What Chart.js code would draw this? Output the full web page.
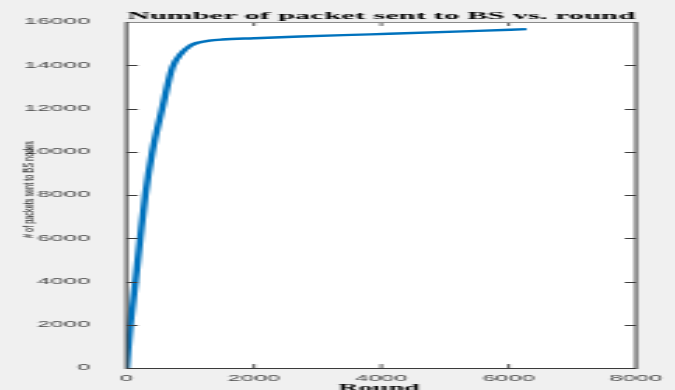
<!DOCTYPE html>
<html>
<head>
<meta charset="utf-8">
<script src="https://cdn.jsdelivr.net/npm/chart.js@4/dist/chart.umd.min.js"></script>
<style>
  html, body { margin: 0; padding: 0; background: #f0f0f0; overflow: hidden; }
  /* The figure is laid out narrow and then widened horizontally */
  #wrap { width: 241px; height: 390px; transform: scaleX(2.80083); transform-origin: 0 0; }
  canvas { display: block; }
</style>
</head>
<body>
<div id="wrap"><canvas id="c" width="241" height="390"></canvas></div>
<script>
// Cumulative packets delivered to the base station, by round
const rounds  = [0, 60, 140, 215, 295, 405, 560, 720, 860, 1000, 1100, 1300, 1500, 2000, 2724, 3823, 5518, 6280];
const packets = [0, 2000, 4000, 6000, 8000, 10000, 12000, 13900, 14550, 14900, 15030, 15140, 15190, 15250, 15330, 15430, 15590, 15670];

const xTicks = [0, 2000, 4000, 6000, 8000];
const yTicks = [0, 2000, 4000, 6000, 8000, 10000, 12000, 14000, 16000];

const titleText = 'Number of packet sent to BS vs. round';
const xLabel = 'Round';
const yLabel = '# of packets sent to BS nodes';

const AXIS_COLOR = '#3a3a3a';
const TICK_LEN = 4;

// Figure background, white axes, inward ticks on all four sides, title and axis labels
const matlabFrame = {
  id: 'matlabFrame',
  beforeDraw(chart) {
    const { ctx, chartArea: a } = chart;
    ctx.save();
    ctx.fillStyle = '#f0f0f0';
    ctx.fillRect(0, 0, chart.width, chart.height);
    ctx.fillStyle = '#ffffff';
    ctx.fillRect(a.left, a.top, a.right - a.left, a.bottom - a.top);
    ctx.restore();
  },
  afterDraw(chart) {
    const { ctx, chartArea: a, scales } = chart;
    const xs = scales.x, ys = scales.y;
    ctx.save();
    ctx.strokeStyle = AXIS_COLOR;

    // ticks
    ctx.lineWidth = 0.8;
    ctx.beginPath();
    xs.ticks.forEach(t => {
      if (t.value <= xs.min || t.value >= xs.max) return;
      const px = xs.getPixelForValue(t.value);
      ctx.moveTo(px, a.bottom); ctx.lineTo(px, a.bottom - TICK_LEN);
      ctx.moveTo(px, a.top);    ctx.lineTo(px, a.top + TICK_LEN);
    });
    ctx.stroke();
    ctx.lineWidth = 1;
    ctx.beginPath();
    ys.ticks.forEach(t => {
      if (t.value <= ys.min || t.value >= ys.max) return;
      const py = Math.round(ys.getPixelForValue(t.value)) + 0.5;
      ctx.moveTo(a.left, py);  ctx.lineTo(a.left + TICK_LEN, py);
      ctx.moveTo(a.right, py); ctx.lineTo(a.right - TICK_LEN, py);
    });
    ctx.stroke();

    // box
    ctx.lineWidth = 1;
    ctx.strokeStyle = '#8a8a8a';
    ctx.beginPath();
    ctx.moveTo(a.left, a.top + 0.5); ctx.lineTo(a.right, a.top + 0.5);
    ctx.stroke();
    ctx.strokeStyle = AXIS_COLOR;
    ctx.beginPath();
    ctx.moveTo(a.left, a.bottom + 0.5); ctx.lineTo(a.right, a.bottom + 0.5);
    ctx.stroke();
    ctx.lineWidth = 1;
    ctx.beginPath();
    ctx.moveTo(a.left, a.top); ctx.lineTo(a.left, a.bottom + 1);
    ctx.moveTo(a.right, a.top); ctx.lineTo(a.right, a.bottom + 1);
    ctx.stroke();

    const cx = (a.left + a.right) / 2;

    // title
    ctx.fillStyle = '#000000';
    ctx.font = 'bold 11px "Liberation Serif", serif';
    ctx.textAlign = 'center';
    ctx.textBaseline = 'alphabetic';
    ctx.fillText(titleText, cx, 18.5);

    // x-axis label
    ctx.font = 'bold 10px "Liberation Serif", serif';
    ctx.fillText(xLabel, cx - 0.8, 391);

    // y-axis label, rotated and condensed
    ctx.save();
    ctx.translate(10.5, 189.5);
    ctx.rotate(-Math.PI / 2);
    ctx.scale(0.73, 0.6);
    ctx.font = '10px "Liberation Sans", sans-serif';
    ctx.textBaseline = 'middle';
    ctx.fillStyle = '#1a1a1a';
    ctx.fillText(yLabel, 0, 0);
    ctx.restore();

    ctx.restore();
  }
};

new Chart(document.getElementById('c'), {
  type: 'line',
  data: {
    datasets: [{
      data: rounds.map((r, i) => ({ x: r, y: packets[i] })),
      borderColor: '#0072BD',
      borderWidth: 2.4,
      pointRadius: 0,
      fill: false,
      cubicInterpolationMode: 'monotone'
    }]
  },
  options: {
    responsive: false,
    animation: false,
    devicePixelRatio: 1,
    layout: { padding: { left: 0, top: 22, right: 13.93, bottom: 0 } },
    plugins: { legend: { display: false }, tooltip: { enabled: false }, title: { display: false } },
    scales: {
      x: {
        type: 'linear',
        min: 0, max: 8000,
        afterBuildTicks: s => { s.ticks = xTicks.map(v => ({ value: v })); },
        afterFit: s => { s.height = 22; },
        grid: { display: false },
        border: { display: false },
        ticks: {
          padding: -2,
          maxRotation: 0,
          color: '#4a4a4a',
          font: { family: '"Liberation Sans", sans-serif', size: 8.5 },
          callback: v => String(v)
        }
      },
      y: {
        type: 'linear',
        min: 0, max: 16000,
        afterBuildTicks: s => { s.ticks = yTicks.map(v => ({ value: v })); },
        afterFit: s => { s.width = 45.165; },
        grid: { display: false },
        border: { display: false },
        ticks: {
          padding: 5,
          color: '#4a4a4a',
          font: { family: '"Liberation Sans", sans-serif', size: 8.5 },
          callback: v => String(v)
        }
      }
    }
  },
  plugins: [matlabFrame]
});
</script>
</body>
</html>
